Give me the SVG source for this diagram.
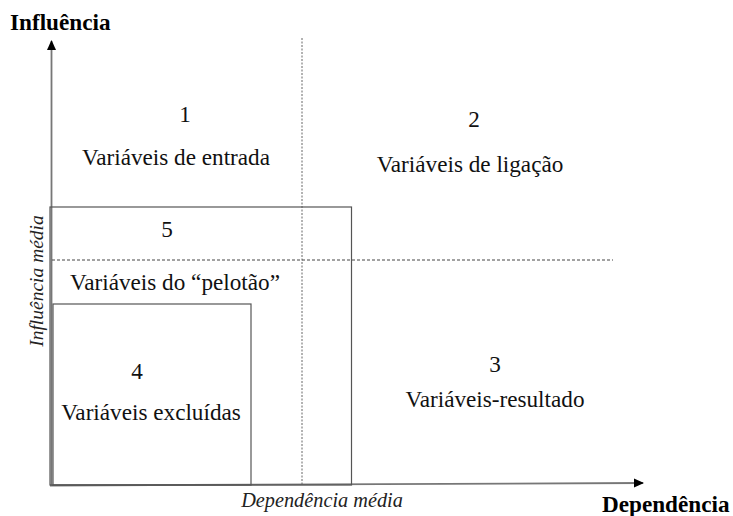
<svg xmlns="http://www.w3.org/2000/svg" width="733" height="516" viewBox="0 0 733 516">
<style>
.t{font-family:"Liberation Serif","Times New Roman",serif;font-size:23.2px;fill:#111;text-anchor:middle}
.b{font-family:"Liberation Serif","Times New Roman",serif;font-size:23.2px;font-weight:bold;fill:#000}
.i{font-family:"Liberation Serif","Times New Roman",serif;font-size:19.5px;font-style:italic;fill:#222;text-anchor:middle}
.box{fill:none;stroke:#555;stroke-width:1.2}
.axis{stroke:#777;stroke-width:1.8;fill:none}
</style>
<defs>
<marker id="ah" markerWidth="10" markerHeight="10" refX="9" refY="5" orient="auto" markerUnits="userSpaceOnUse">
<path d="M0,0.5 L10,5 L0,9.5 Z" fill="#000"/>
</marker>
</defs>
<rect width="733" height="516" fill="#fff"/>
<g id="connectors">
<line class="axis" x1="51.5" y1="486" x2="51.5" y2="41" marker-end="url(#ah)"/>
<line class="axis" x1="50" y1="485.5" x2="643" y2="483" marker-end="url(#ah)"/>
<line x1="302" y1="38" x2="302" y2="484" stroke="#666" stroke-width="1" stroke-dasharray="2,1.5"/>
<line x1="52" y1="260" x2="613" y2="260" stroke="#444" stroke-width="1" stroke-dasharray="3,2"/>
</g>
<g id="box5"><rect class="box" x="50" y="207" width="301.5" height="278"/></g>
<g id="box4"><rect class="box" x="53" y="304" width="198" height="181"/></g>
<g id="q1"><text class="t" x="185" y="122">1</text><text class="t" x="176" y="165">Variáveis de entrada</text></g>
<g id="q2"><text class="t" x="474" y="127">2</text><text class="t" x="470" y="172">Variáveis de ligação</text></g>
<g id="q5"><text class="t" x="167" y="237">5</text><text class="t" x="175" y="290">Variáveis do “pelotão”</text></g>
<g id="q4"><text class="t" x="137" y="379">4</text><text class="t" x="151" y="420">Variáveis excluídas</text></g>
<g id="q3"><text class="t" x="495" y="372">3</text><text class="t" x="495" y="407">Variáveis-resultado</text></g>
<g id="labels">
<text class="b" x="10" y="30">Influência</text>
<text class="b" x="602" y="512">Dependência</text>
<text class="i" x="322" y="507" style="font-size:20.3px">Dependência média</text>
<text class="i" transform="translate(43,281) rotate(-90)">Influência média</text>
</g>
</svg>
